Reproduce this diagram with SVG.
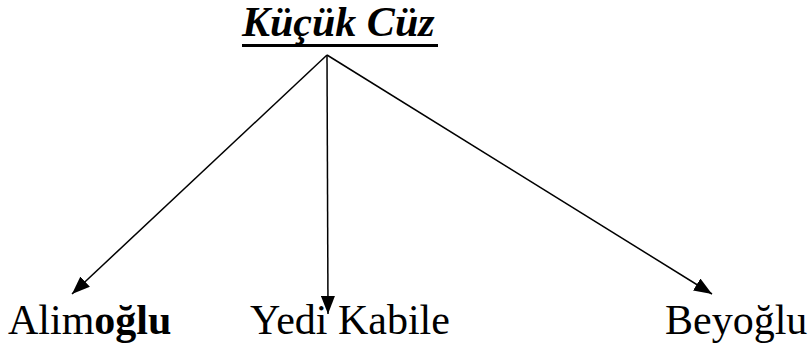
<svg xmlns="http://www.w3.org/2000/svg" width="808" height="349" viewBox="0 0 808 349">
<style>
text{fill:#000;font-family:'Liberation Serif','Times New Roman',serif}
.lbl{font-size:42px}
.c line{stroke:#000;stroke-width:1.5}
</style>
<defs>
<marker id="ah" viewBox="0 0 18 14" refX="18" refY="7" markerWidth="18" markerHeight="14" markerUnits="userSpaceOnUse" orient="auto">
<path d="M0,0 L18,7 L0,14 Z" fill="#000"/>
</marker>
</defs>
<rect width="808" height="349" fill="#fff"/>
<g id="root">
<text x="242" y="36" font-size="42" font-weight="bold" font-style="italic">Küçük Cüz</text>
<rect x="242" y="44" width="196" height="3" fill="#000"/>
</g>
<g class="c" id="connectors">
<line x1="327" y1="55" x2="72" y2="294" marker-end="url(#ah)"/>
<line x1="327" y1="55" x2="328" y2="314" marker-end="url(#ah)"/>
<line x1="327" y1="55" x2="712" y2="294" marker-end="url(#ah)"/>
</g>
<g id="n1"><text class="lbl" x="8" y="334">Alim<tspan font-weight="bold">oğlu</tspan></text></g>
<g id="n2"><text class="lbl" x="250" y="334">Yedi Kabile</text></g>
<g id="n3"><text class="lbl" x="665" y="334">Beyoğlu</text></g>
</svg>
